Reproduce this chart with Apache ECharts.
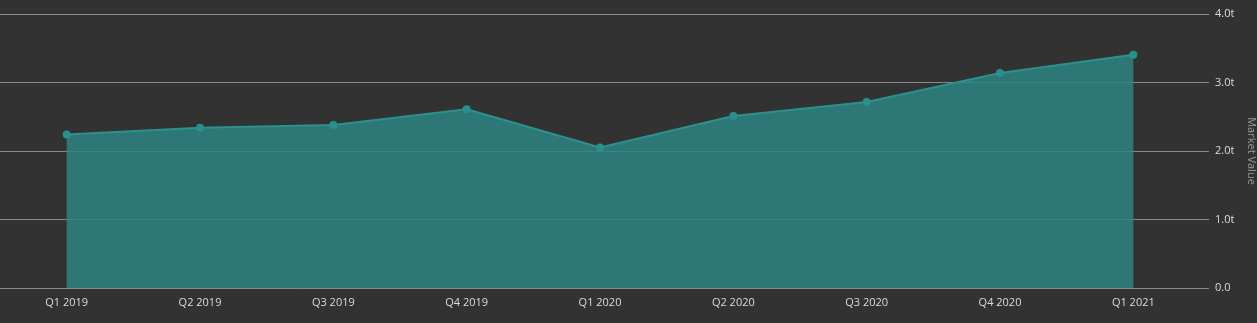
<!DOCTYPE html>
<html>
<head>
<meta charset="utf-8">
<script src="https://cdn.jsdelivr.net/npm/echarts@6/dist/echarts.min.js"></script>
<style>
  html, body { margin: 0; padding: 0; background: #323232; }
  #chart { width: 1257px; height: 323px; }
</style>
</head>
<body>
<div id="chart"></div>
<script>
// Quarterly market value (in trillions)
const quarters = ['Q1 2019', 'Q2 2019', 'Q3 2019', 'Q4 2019', 'Q1 2020', 'Q2 2020', 'Q3 2020', 'Q4 2020', 'Q1 2021'];
const marketValueT = [2.24, 2.34, 2.38, 2.61, 2.05, 2.51, 2.715, 3.14, 3.405];
const yTicks = [0, 1, 2, 3, 4];

const chart = echarts.init(document.getElementById('chart'));
chart.setOption({
  backgroundColor: '#323232',
  animation: false,
  grid: { left: 0, right: 57, top: 14, bottom: 35, containLabel: false, outerBoundsMode: 'none' },
  xAxis: {
    type: 'category',
    data: quarters,
    boundaryGap: true,
    axisLine: { lineStyle: { color: '#8a8a8a', width: 1 } },
    axisTick: { show: false },
    axisLabel: { color: '#dcdcdc', fontSize: 11, fontFamily: 'Open Sans', margin: 9 }
  },
  yAxis: {
    type: 'value',
    position: 'right',
    min: yTicks[0],
    max: yTicks[yTicks.length - 1],
    interval: 1,
    name: 'Market Value',
    nameLocation: 'middle',
    nameRotate: -90,
    nameGap: 46,
    nameTextStyle: { color: '#9a9a9a', fontSize: 11, fontFamily: 'Open Sans' },
    axisLine: { show: false },
    axisTick: { show: true, length: 9, lineStyle: { color: '#8a8a8a' } },
    splitLine: { lineStyle: { color: '#8a8a8a', width: 1 } },
    axisLabel: {
      color: '#dcdcdc', fontSize: 11, fontFamily: 'Open Sans', margin: 15,
      formatter: v => v === 0 ? '0.0' : v.toFixed(1) + 't'
    }
  },
  series: [{
    type: 'line',
    data: marketValueT,
    symbol: 'circle',
    symbolSize: 8,
    itemStyle: { color: '#2a908d' },
    lineStyle: { color: '#2a928f', width: 2 },
    areaStyle: { color: 'rgb(45,132,131)', opacity: 0.85 }
  }]
});
</script>
</body>
</html>
